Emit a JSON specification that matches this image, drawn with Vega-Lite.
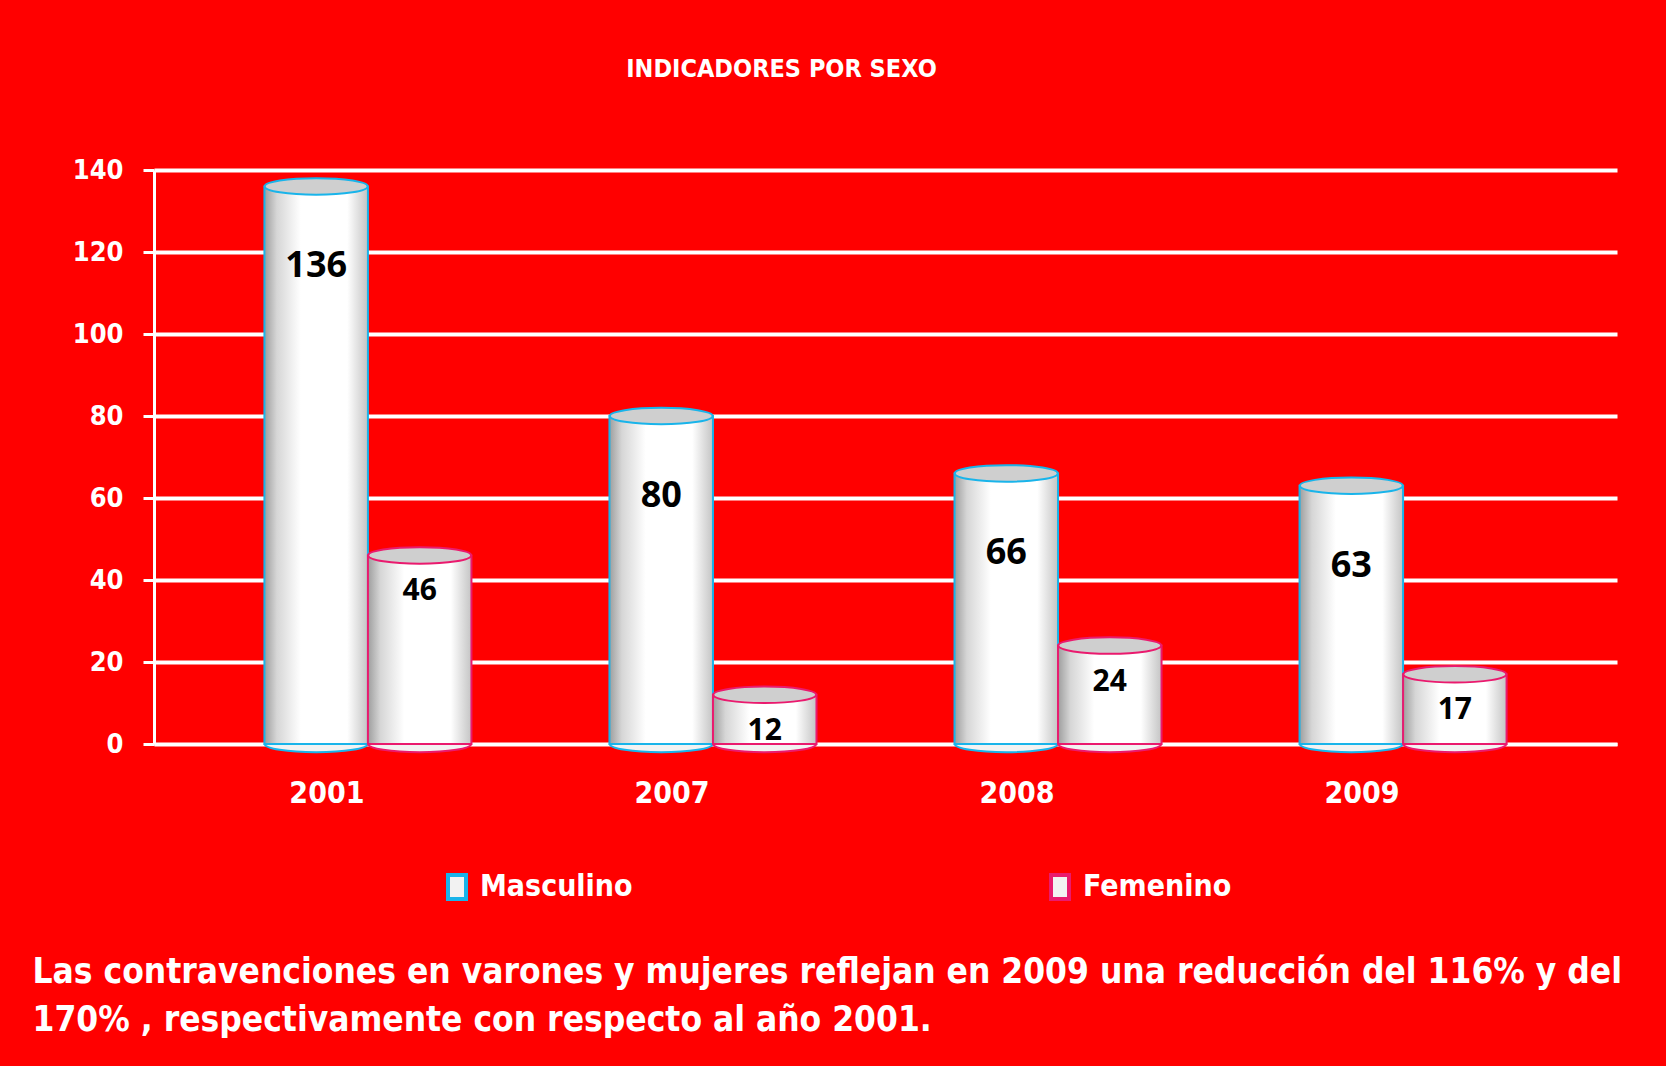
{
  "$schema": "https://vega.github.io/schema/vega-lite/v6.json",
  "autosize": {"type": "none"},
  "width": 1463,
  "height": 574,
  "padding": {"left": 154, "top": 170, "right": 49, "bottom": 322},
  "background": "#ff0000",
  "config": {"view": {"stroke": null}},
  "title": {"text": "INDICADORES POR SEXO", "color": "white", "fontSize": 25, "font": "DejaVu Sans Condensed", "fontWeight": "bold", "anchor": "middle", "dx": -104, "offset": 74},
  "data": {"values": [
    {"year": "2001", "sex": "Masculino", "value": 136},
    {"year": "2001", "sex": "Femenino", "value": 46},
    {"year": "2007", "sex": "Masculino", "value": 80},
    {"year": "2007", "sex": "Femenino", "value": 12},
    {"year": "2008", "sex": "Masculino", "value": 66},
    {"year": "2008", "sex": "Femenino", "value": 24},
    {"year": "2009", "sex": "Masculino", "value": 63},
    {"year": "2009", "sex": "Femenino", "value": 17}
  ]},
  "encoding": {
    "x": {"field": "year", "type": "nominal", "sort": null,
      "scale": {"paddingInner": 0.4, "paddingOuter": 0.32},
      "axis": {"ticks": false, "domainColor": "white", "domainWidth": 3, "labelColor": "white", "labelFont": "DejaVu Sans Condensed", "labelFontWeight": "bold", "labelFontSize": 30, "labelPadding": 34, "labelOffset": -41, "labelAngle": 0, "labelBaseline": "top",
        "title": ["Las contravenciones  en varones y mujeres reflejan en 2009 una reducción del 116% y del", "170% , respectivamente con respecto al año 2001."],
        "titleColor": "white", "titleFont": "DejaVu Sans Condensed", "titleFontWeight": "bold", "titleFontSize": 35, "titleLineHeight": 48, "titleX": -122, "titleY": 210, "titleAlign": "left", "titleAnchor": "start", "titleBaseline": "top"}},
    "xOffset": {"field": "sex", "type": "nominal", "sort": ["Masculino", "Femenino"], "scale": {"paddingInner": 0}},
    "y": {"field": "value", "type": "quantitative", "scale": {"domain": [0, 140]},
      "axis": {"values": [0, 20, 40, 60, 80, 100, 120, 140], "title": null, "domainColor": "white", "domainWidth": 3, "tickColor": "white", "tickSize": 11, "tickWidth": 3, "labelColor": "white", "labelFont": "DejaVu Sans Condensed", "labelFontWeight": "bold", "labelFontSize": 27, "labelPadding": 20, "gridColor": "white", "gridWidth": 4, "gridOpacity": 1}}
  },
  "layer": [
    {
      "mark": {"type": "point", "shape": "M-1,0A1,0.16 0 1,1 1,0A1,0.16 0 1,1 -1,0Z", "size": 10609, "filled": true, "fill": "#f2f2f2", "strokeWidth": 2, "opacity": 1},
      "encoding": {
        "y": {"datum": 0},
        "stroke": {"field": "sex", "type": "nominal"}
      }
    },
    {
      "mark": {"type": "bar", "strokeWidth": 2,
        "fill": {"gradient": "linear", "x1": 0, "y1": 0, "x2": 1, "y2": 0, "stops": [
          {"offset": 0, "color": "#9e9e9e"},
          {"offset": 0.12, "color": "#d6d6d6"},
          {"offset": 0.35, "color": "#ffffff"},
          {"offset": 0.8, "color": "#ffffff"},
          {"offset": 1, "color": "#c4c4c4"}]}},
      "encoding": {
        "stroke": {"field": "sex", "type": "nominal",
          "scale": {"domain": ["Masculino", "Femenino"], "range": ["#19b4ea", "#ea1a6e"]},
          "legend": {"orient": "none", "legendX": 288, "legendY": 702, "direction": "horizontal", "title": null, "symbolType": "M-0.75,-1H0.75V1H-0.75Z", "symbolSize": 576, "symbolFillColor": "white", "symbolStrokeWidth": 4, "symbolOpacity": 1, "labelColor": "white", "labelFont": "DejaVu Sans Condensed", "labelFontWeight": "bold", "labelFontSize": 30, "columnPadding": 410, "labelOffset": 8,
            "encode": {"symbols": {"update": {"fill": {"value": "white"}}}}}}
      }
    },
    {
      "mark": {"type": "point", "shape": "M-1,0A1,0.16 0 1,1 1,0A1,0.16 0 1,1 -1,0Z", "size": 10609, "filled": true, "fill": "#cfcfcf", "strokeWidth": 2, "opacity": 1},
      "encoding": {
        "stroke": {"field": "sex", "type": "nominal"}
      }
    },
    {
      "transform": [{"filter": "datum.sex === 'Masculino'"}],
      "mark": {"type": "text", "font": "Open Sans", "fontWeight": "bold", "fontSize": 36, "color": "black", "baseline": "middle", "dy": 80},
      "encoding": {"text": {"field": "value", "type": "quantitative"}}
    },
    {
      "transform": [{"filter": "datum.sex === 'Femenino'"}],
      "mark": {"type": "text", "font": "Open Sans", "fontWeight": "bold", "fontSize": 30, "color": "black", "baseline": "middle", "dy": 36},
      "encoding": {"text": {"field": "value", "type": "quantitative"}}
    }
  ]
}
